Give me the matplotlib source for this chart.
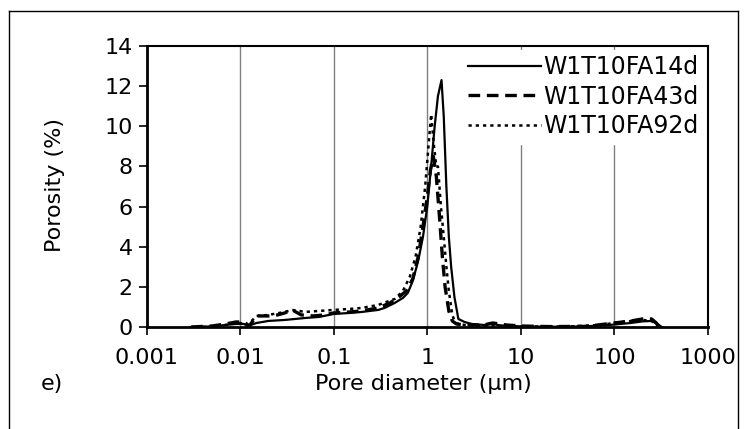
import matplotlib.pyplot as plt
from matplotlib.lines import Line2D

# ---- data ----
x_14d = [0.003, 0.005, 0.007, 0.009, 0.011, 0.012, 0.015, 0.02, 0.03, 0.05, 0.07,
         0.1, 0.15, 0.2, 0.3, 0.35, 0.45, 0.55, 0.62, 0.7, 0.8, 0.9, 1.0, 1.1,
         1.2, 1.3, 1.42, 1.5, 1.6, 1.7, 1.8, 1.95, 2.15, 2.5, 3, 4, 5, 6, 8, 10,
         15, 30, 60, 100, 150, 200, 250, 290, 320]
y_14d = [0, 0.03, 0.1, 0.15, 0.15, 0.05, 0.2, 0.3, 0.35, 0.45, 0.5,
         0.65, 0.7, 0.75, 0.85, 0.95, 1.2, 1.45, 1.7, 2.3, 3.3, 4.5, 6, 8,
         10, 11.5, 12.3, 10.5, 7, 4.5, 3, 1.5, 0.4, 0.25, 0.15, 0.1, 0.15, 0.08, 0.05, 0.03,
         0.02, 0.01, 0.05, 0.12, 0.2, 0.28, 0.3, 0.15, 0]

x_43d = [0.003, 0.005, 0.007, 0.009, 0.011, 0.0125, 0.015, 0.02, 0.025, 0.03, 0.036,
         0.045, 0.06, 0.08, 0.1, 0.15, 0.2, 0.3, 0.4, 0.5, 0.6, 0.7, 0.8, 0.9, 1.0,
         1.08, 1.16, 1.25, 1.35, 1.45, 1.55, 1.7, 1.85, 2.05, 2.5, 3, 4, 5, 7, 10,
         20, 50, 100, 150, 200, 250, 280, 300]
y_43d = [0, 0.05, 0.15, 0.25, 0.25, 0.05, 0.55, 0.55, 0.6, 0.7, 0.85,
         0.6, 0.55, 0.6, 0.7, 0.75, 0.8, 0.95, 1.2, 1.5, 1.8, 2.4, 3.5, 5, 6.5,
         7.8, 8.5, 7.5, 5.5, 3.5, 2, 0.8, 0.3, 0.15, 0.1, 0.1, 0.1, 0.2, 0.1, 0.05,
         0.02, 0.03, 0.2, 0.3, 0.4, 0.4, 0.2, 0]

x_92d = [0.004, 0.006, 0.008, 0.01, 0.012, 0.015, 0.02, 0.03, 0.036, 0.05, 0.07,
         0.1, 0.15, 0.2, 0.3, 0.45, 0.55, 0.65, 0.75, 0.85, 0.95, 1.03, 1.1,
         1.18, 1.25, 1.3, 1.4, 1.5, 1.6, 1.7, 1.85, 2.0, 2.5, 3, 5, 10, 30, 70,
         100, 150, 200, 250, 300]
y_92d = [0, 0.05, 0.15, 0.2, 0.1, 0.55, 0.6, 0.75, 0.85, 0.75, 0.8,
         0.85, 0.9, 0.95, 1.1, 1.4, 1.8, 2.5, 3.5, 5, 7, 9, 10.6,
         9, 8, 8, 6, 4.5, 3, 1.8, 0.6, 0.2, 0.1, 0.05, 0.05, 0.03, 0.02, 0.1,
         0.2, 0.3, 0.35, 0.3, 0]

labels = ["W1T10FA14d", "W1T10FA43d", "W1T10FA92d"]
x_ticks = [0.001, 0.01, 0.1, 1, 10, 100, 1000]
x_ticklabels = ["0.001", "0.01", "0.1", "1", "10", "100", "1000"]
y_ticks = [0, 2, 4, 6, 8, 10, 12, 14]

# ---- figure ----
plt.rcParams['font.family'] = ['DejaVu Sans']
fig = plt.figure(figsize=(7.46, 4.29), dpi=100)
ax = fig.add_axes([0.1965, 0.2378, 0.7525, 0.655])

ax.plot(x_14d, y_14d, color='black', lw=1.6, ls='-', label=labels[0])
ax.plot(x_43d, y_43d, color='black', lw=2.4, ls=(0, (3.5, 2.0)), label=labels[1])
ax.plot(x_92d, y_92d, color='black', lw=1.8, ls=(0, (1.3, 1.6)), label=labels[2])

ax.set_xscale('log')
ax.set_xlim(0.001, 1000)
ax.set_ylim(0, 14)
ax.set_xticks(x_ticks)
ax.set_xticklabels(x_ticklabels)
ax.set_yticks(y_ticks)
ax.minorticks_off()
ax.xaxis.grid(True, color='#808080', lw=1.0)
ax.set_axisbelow(True)

ax.tick_params(axis='both', direction='out', length=6, width=1.2,
               labelsize=16, colors='black')
ax.tick_params(axis='x', pad=9)
ax.tick_params(axis='y', pad=4)
for side in ['left', 'bottom']:
    ax.spines[side].set_linewidth(2.0)
for side in ['top', 'right']:
    ax.spines[side].set_linewidth(1.5)

leg = ax.legend(loc='upper right', bbox_to_anchor=(1.0, 1.0), fontsize=17,
                handlelength=3.1, handletextpad=0.1, labelspacing=0.22,
                borderpad=0.25, borderaxespad=0.15, frameon=True, fancybox=False,
                facecolor='white', edgecolor='white', framealpha=1.0)

fig.text(0.074, 0.569, "Porosity (%)", rotation=90, fontsize=16,
         ha='center', va='center')
fig.text(0.568, 0.104, "Pore diameter (µm)", fontsize=16, ha='center', va='center')
fig.text(0.054, 0.104, "e)", fontsize=16, ha='left', va='center')

# outer frame of the panel
fx0, fx1, fy1 = 9 / 746, 738 / 746, 1 - 11 / 429
for xs, ys in [([fx0, fx0], [0, fy1]), ([fx0, fx1], [fy1, fy1]), ([fx1, fx1], [0, fy1])]:
    fig.add_artist(Line2D(xs, ys, color='black', lw=1.0, transform=fig.transFigure))

fig.savefig("out.png", dpi=100)
